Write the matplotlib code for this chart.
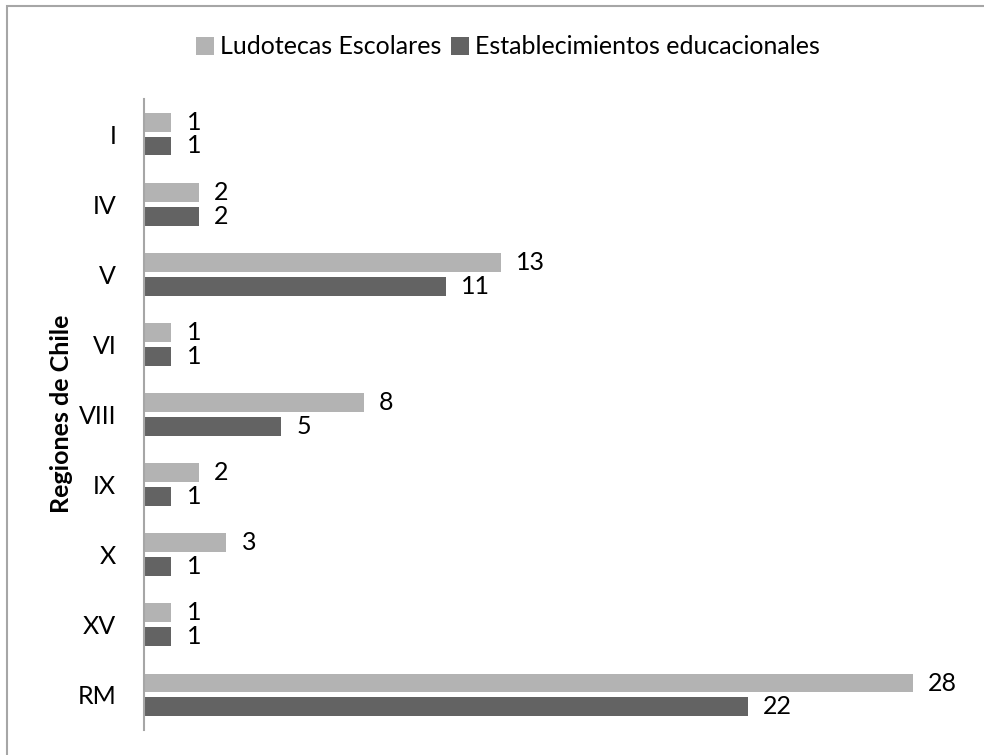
import matplotlib.pyplot as plt
import numpy as np
from matplotlib.patches import Rectangle

# Regions (top to bottom) and counts per series
regiones = ['I', 'IV', 'V', 'VI', 'VIII', 'IX', 'X', 'XV', 'RM']
ludotecas = [1, 2, 13, 1, 8, 2, 3, 1, 28]
establecimientos = [1, 2, 11, 1, 5, 1, 1, 1, 22]

plt.rcParams['font.family'] = ['Lato', 'DejaVu Sans']

light = '#b3b3b3'
dark = '#636363'
fs = 18

fig = plt.figure(figsize=(9.84, 7.55), dpi=100)
ax = fig.add_axes([144 / 984, 1 - 730 / 755, (968 - 144) / 984, (730 - 99) / 755])

y = np.arange(len(regiones))
h = 0.27
gap = 0.035
b1 = ax.barh(y - h / 2 - gap, ludotecas, height=h, color=light, label='Ludotecas Escolares')
b2 = ax.barh(y + h / 2 + gap, establecimientos, height=h, color=dark, label='Establecimientos educacionales')

for bars, vals in ((b1, ludotecas), (b2, establecimientos)):
    for bar, v in zip(bars, vals):
        ax.text(bar.get_width() + 0.55, bar.get_y() + bar.get_height() / 2, str(v),
                va='center', ha='left', fontsize=fs)

ax.set_xlim(0, 30)
ax.set_ylim(len(regiones) - 0.5, -0.5)
ax.set_yticks(y)
ax.set_yticklabels(regiones, fontsize=fs)
ax.tick_params(axis='y', length=0, pad=20)
ax.set_xticks([])
for side in ('top', 'right', 'bottom'):
    ax.spines[side].set_visible(False)
ax.spines['left'].set_color('#a6a6a6')
ax.spines['left'].set_linewidth(1.5)

fig.text(62 / 984, 1 - 414 / 755, 'Regiones de Chile', rotation=90, fontsize=fs,
         fontweight='bold', ha='center', va='center')

fig.legend(handles=[b1, b2], loc='center', bbox_to_anchor=(508 / 984, 1 - 47 / 755),
           ncol=2, frameon=False, fontsize=fs, handlelength=0.7, handleheight=0.7,
           handletextpad=0.25, columnspacing=0.4)

# chart frame (only top and left edges fall inside the image)
fig.patches.append(Rectangle((7 / 984, -0.05), 1.1, 1 - 6 / 755 + 0.05, transform=fig.transFigure,
                             fill=False, edgecolor='#a6a6a6', linewidth=1.5))

fig.savefig('out.png', dpi=100)
